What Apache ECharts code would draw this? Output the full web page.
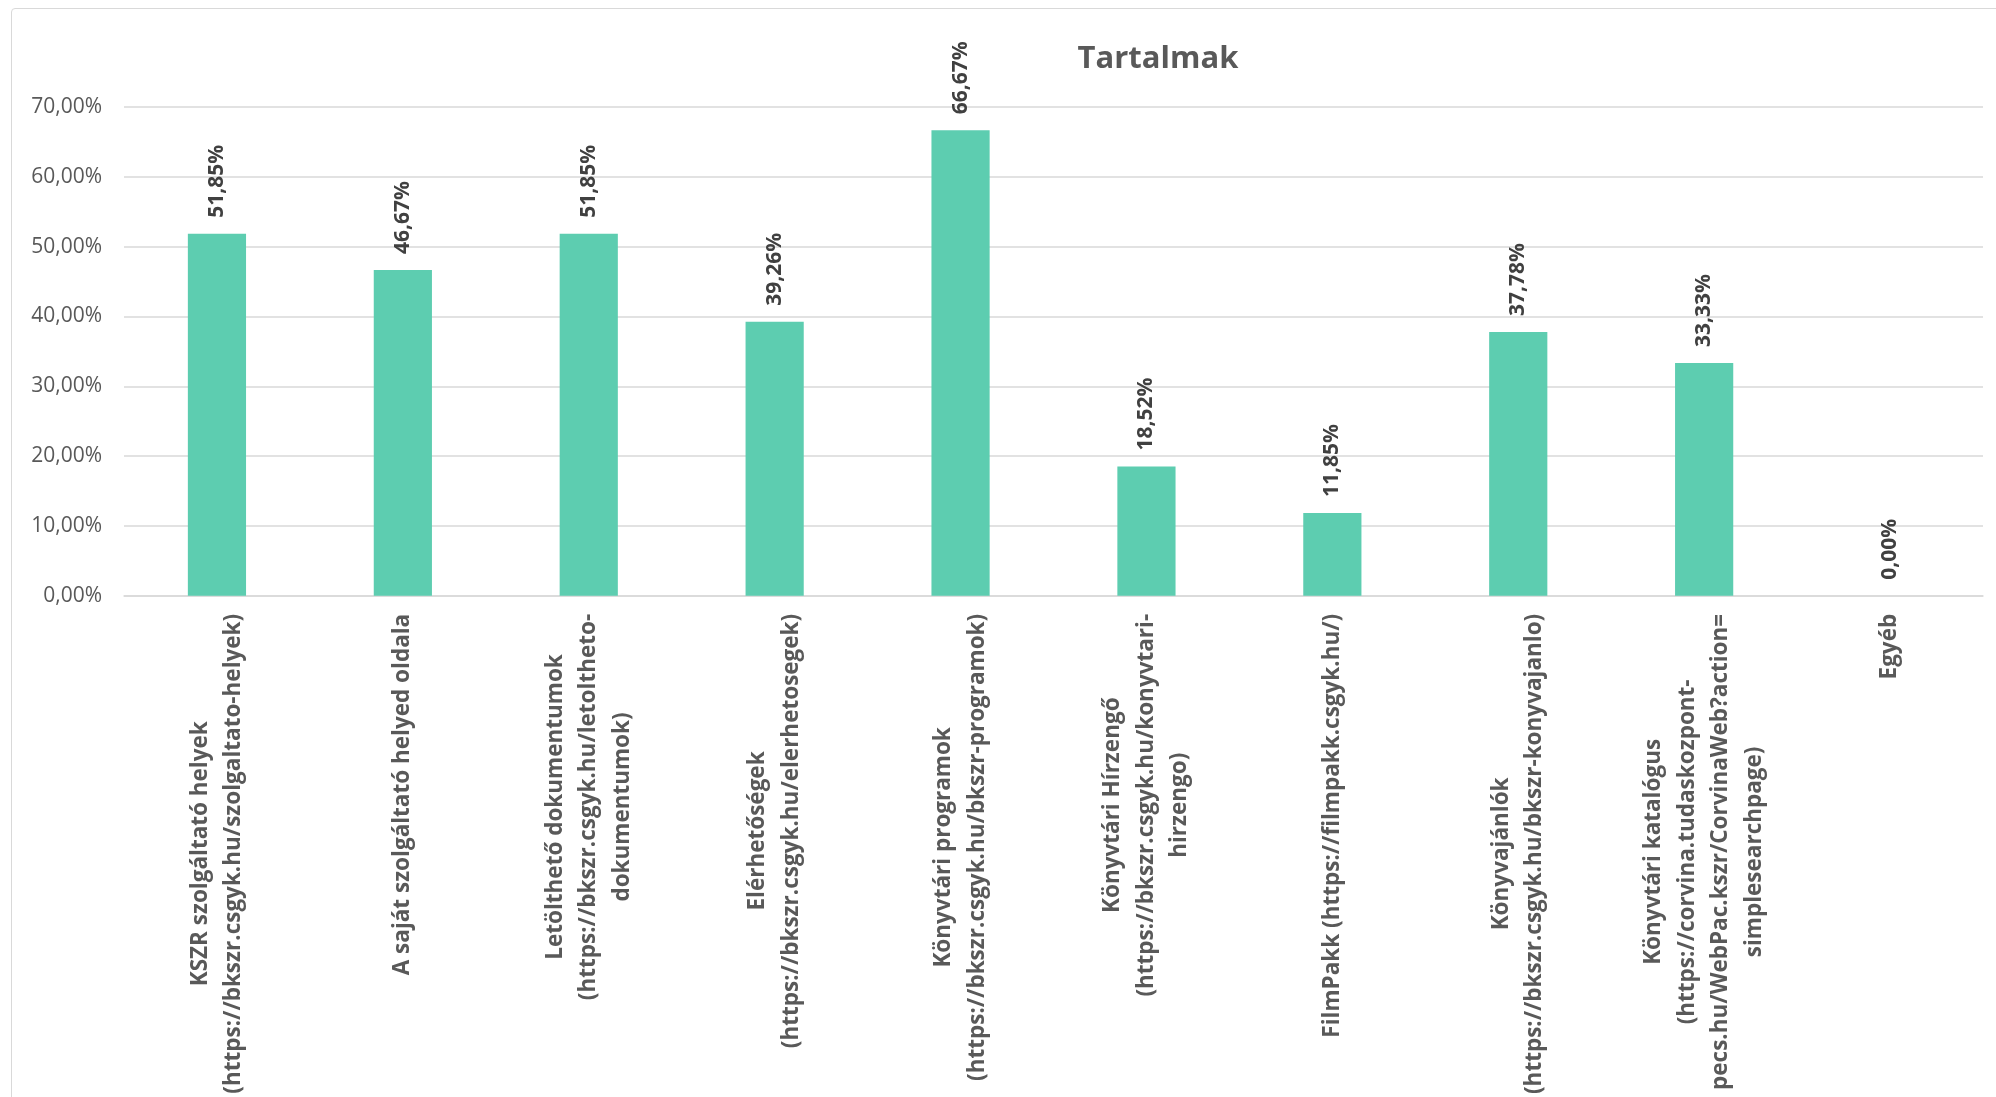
<!DOCTYPE html>
<html>
<head>
<meta charset="utf-8">
<script src="https://cdn.jsdelivr.net/npm/echarts@6/dist/echarts.min.js"></script>
<style>
html,body{margin:0;padding:0;background:#fff;}
#frame{position:absolute;left:11px;top:8px;width:2100px;height:1200px;border:1.5px solid #d9d9d9;border-radius:4px;box-sizing:border-box;}
#chart{position:absolute;left:0;top:0;width:1996px;height:1097px;}
</style>
</head>
<body>
<div id="frame"></div>
<div id="chart"></div>
<script>
const categories = [
  "KSZR szolgáltató helyek\n(https://bkszr.csgyk.hu/szolgaltato-helyek)",
  "A saját szolgáltató helyed oldala",
  "Letölthető dokumentumok\n(https://bkszr.csgyk.hu/letoltheto-\ndokumentumok)",
  "Elérhetőségek\n(https://bkszr.csgyk.hu/elerhetosegek)",
  "Könyvtári programok\n(https://bkszr.csgyk.hu/bkszr-programok)",
  "Könyvtári Hírzengő\n(https://bkszr.csgyk.hu/konyvtari-\nhirzengo)",
  "FilmPakk (https://filmpakk.csgyk.hu/)",
  "Könyvajánlók\n(https://bkszr.csgyk.hu/bkszr-konyvajanlo)",
  "Könyvtári katalógus\n(https://corvina.tudaskozpont-\npecs.hu/WebPac.kszr/CorvinaWeb?action=\nsimplesearchpage)",
  "Egyéb"
];
const values = [51.85, 46.67, 51.85, 39.26, 66.67, 18.52, 11.85, 37.78, 33.33, 0.00];
const title = "Tartalmak";

const FONT = "'Open Sans', 'Noto Sans', sans-serif";
const fmt = v => v.toFixed(2).replace('.', ',') + '%';

const chart = echarts.init(document.getElementById('chart'));
chart.setOption({
  backgroundColor: 'transparent',
  animation: false,
  title: {
    text: title,
    left: 1153,
    top: 39,
    textAlign: 'center',
    textStyle: {fontFamily: FONT, fontSize: 31, fontWeight: 'bold', color: '#595959'}
  },
  grid: {left: 124, right: 13, top: 107, bottom: 501},
  xAxis: {
    type: 'category',
    data: categories,
    axisLine: {show: true, lineStyle: {color: '#d9d9d9', width: 1.5}},
    axisTick: {show: false},
    axisLabel: {
      interval: 0,
      rotate: 90,
      margin: 18,
      formatter: function (v) {
        return v.split('\n').map(l => '{c|' + l + '}').join('\n');
      },
      rich: {
        c: {align: 'center', fontFamily: FONT, fontSize: 22.5, fontWeight: 'bold', color: '#595959', lineHeight: 33.5}
      }
    }
  },
  yAxis: {
    type: 'value',
    min: 0,
    max: 70,
    interval: 10,
    axisLine: {show: false},
    axisTick: {show: false},
    splitLine: {lineStyle: {color: '#d9d9d9', width: 1.5}},
    axisLabel: {
      formatter: fmt,
      fontFamily: FONT,
      fontSize: 21,
      color: '#595959',
      margin: 22
    }
  },
  series: [{
    type: 'bar',
    data: values,
    barWidth: '31.3%',
    itemStyle: {color: '#5dcdb0'},
    label: {
      show: true,
      position: 'top',
      rotate: 90,
      align: 'left',
      verticalAlign: 'middle',
      distance: 16,
      formatter: p => fmt(p.value),
      fontFamily: FONT,
      fontSize: 21,
      fontWeight: 'bold',
      color: '#404040'
    }
  }]
});
</script>
</body>
</html>
